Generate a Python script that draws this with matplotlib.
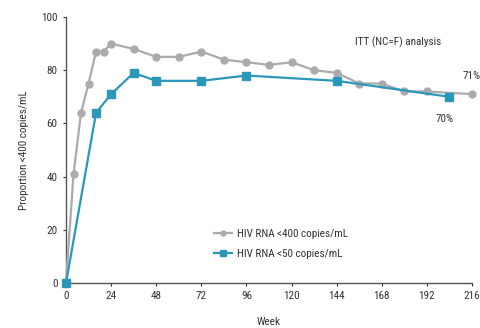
import matplotlib
matplotlib.use("Agg")
import matplotlib.pyplot as plt

plt.rcParams['font.family'] = ['Roboto Condensed', 'DejaVu Sans']

# HIV RNA <400 copies/mL
weeks400 = [0, 4, 8, 12, 16, 20, 24, 36, 48, 60, 72, 84, 96, 108, 120, 132, 144, 156, 168, 180, 192, 216]
vals400 = [0, 41, 64, 75, 87, 87, 90, 88, 85, 85, 87, 84, 83, 82, 83, 80, 79, 75, 75, 72, 72, 71]

# HIV RNA <50 copies/mL
weeks50 = [0, 16, 24, 36, 48, 72, 96, 144, 204]
vals50 = [0, 64, 71, 79, 76, 76, 78, 76, 70]

xticks = [0, 24, 48, 72, 96, 120, 144, 168, 192, 216]
yticks = [0, 20, 40, 60, 80, 100]

gray = "#ABABAD"
blue = "#2B98BA"
textc = "#333333"

fig = plt.figure(figsize=(4.81, 3.28), dpi=100)
ax = fig.add_axes([66 / 481, 1 - 283 / 328, 406 / 481, 266 / 328])

ax.plot(weeks400, vals400, color=gray, marker="o", markersize=5, linewidth=1.6,
        label="HIV RNA <400 copies/mL", clip_on=False, zorder=3)
ax.plot(weeks50, vals50, color=blue, marker="s", markersize=5.5, linewidth=1.6,
        label="HIV RNA <50 copies/mL", clip_on=False, zorder=4)

ax.set_xlim(0, 216)
ax.set_ylim(0, 100)
ax.set_xticks(xticks)
ax.set_yticks(yticks)
ax.tick_params(axis="both", labelsize=8, colors=textc, length=2.5, width=0.8)
for s in ["top", "right"]:
    ax.spines[s].set_visible(False)
for s in ["left", "bottom"]:
    ax.spines[s].set_color("#555555")
    ax.spines[s].set_linewidth(1.0)

ax.set_xlabel("Week", fontsize=8, color=textc, labelpad=11)
ax.set_ylabel("Proportion <400 copies/mL", fontsize=8, color=textc, labelpad=9)

ax.text(154, 90.5, "ITT (NC=F) analysis", fontsize=8, color=textc, va="center")
ax.text(220.5, 78, "71%", fontsize=8, color=textc, va="center", ha="right")
ax.text(201.5, 61.5, "70%", fontsize=8, color=textc, va="center", ha="center")

ax.legend(loc="upper left", bbox_to_anchor=(0.34, 0.24), frameon=False, fontsize=8,
          handlelength=1.6, handletextpad=0.5, labelspacing=0.85, markerscale=0.7,
          labelcolor=textc)

fig.savefig("out.png", dpi=100)
